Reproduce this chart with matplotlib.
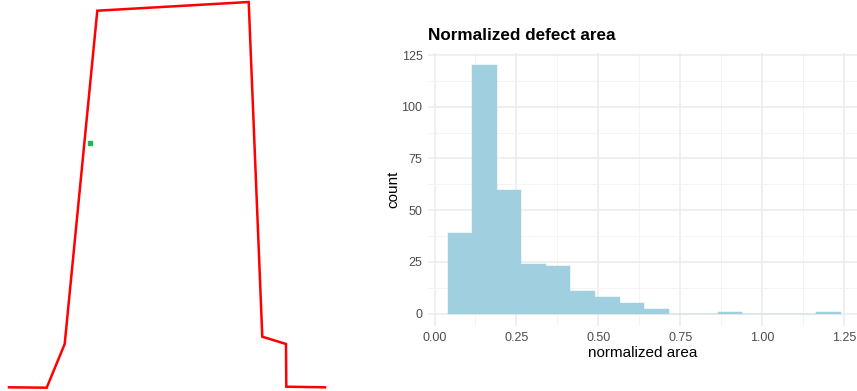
import numpy as np
import matplotlib.pyplot as plt

# left panel: outline traced in image pixel coords
outline_x = [9, 46.7, 64.7, 97.3, 248.7, 262.3, 286, 286.3, 325]
outline_y = [387.3, 387.7, 344, 10.7, 2, 336.7, 344, 386.7, 387.3]
marker_x = [90.3]
marker_y = [142.7]

# right panel: histogram bins
bin_left = [0.04, 0.115, 0.19, 0.265, 0.34, 0.415, 0.49, 0.565, 0.64, 0.715,
            0.79, 0.865, 0.94, 1.015, 1.09, 1.165]
counts = [39, 120, 60, 24, 23, 11, 8, 5, 2, 0, 0, 1, 0, 0, 0, 1]
bin_width = 0.075
x_ticks = [0.0, 0.25, 0.5, 0.75, 1.0, 1.25]
x_ticklabels = ["0.00", "0.25", "0.50", "0.75", "1.00", "1.25"]
y_ticks = [0, 25, 50, 75, 100, 125]

plt.rcParams['font.family'] = ['Liberation Sans', 'DejaVu Sans']

W, H = 857, 391
fig = plt.figure(figsize=(W / 100, H / 100), dpi=100)

ax1 = fig.add_axes([0, 0, 340 / W, 1])
ax1.plot(outline_x, outline_y, color="#ff0000", linewidth=1.8, solid_joinstyle="miter")
ax1.scatter(marker_x, marker_y, marker="s", s=12, color="#1db954", zorder=3)
ax1.set_xlim(0, 340)
ax1.set_ylim(391, 0)
ax1.axis("off")

# right panel, ggplot-minimal look
left, right, top, bottom = 428, 857, 53, 326
ax2 = fig.add_axes([left / W, 1 - bottom / H, (right - left) / W, (bottom - top) / H])
ax2.bar(bin_left, counts, width=bin_width, align="edge", color="#a0cfe0",
        edgecolor="#a0cfe0", linewidth=0.3, zorder=2)
ax2.set_xlim(-0.02, 1.29)
ax2.set_ylim(-6, 126)
ax2.set_xticks(x_ticks)
ax2.set_xticklabels(x_ticklabels)
ax2.set_yticks(y_ticks)
ax2.set_xticks([0.125, 0.375, 0.625, 0.875, 1.125], minor=True)
ax2.set_yticks([12.5, 37.5, 62.5, 87.5, 112.5], minor=True)
ax2.grid(which="major", color="#ebebeb", linewidth=1.1, zorder=0)
ax2.grid(which="minor", color="#f3f3f3", linewidth=0.6, zorder=0)
ax2.set_axisbelow(True)
ax2.tick_params(which="both", length=0, labelsize=9, labelcolor="#4d4d4d", pad=4)
for s in ax2.spines.values():
    s.set_visible(False)
ax2.set_xlabel("normalized area", fontsize=11, labelpad=2)
ax2.set_ylabel("count", fontsize=11, labelpad=1)
ax2.set_title("Normalized defect area", fontsize=12.3, fontweight="bold", loc="left",
              x=0.0, pad=9)

fig.savefig("out.png", dpi=100)
